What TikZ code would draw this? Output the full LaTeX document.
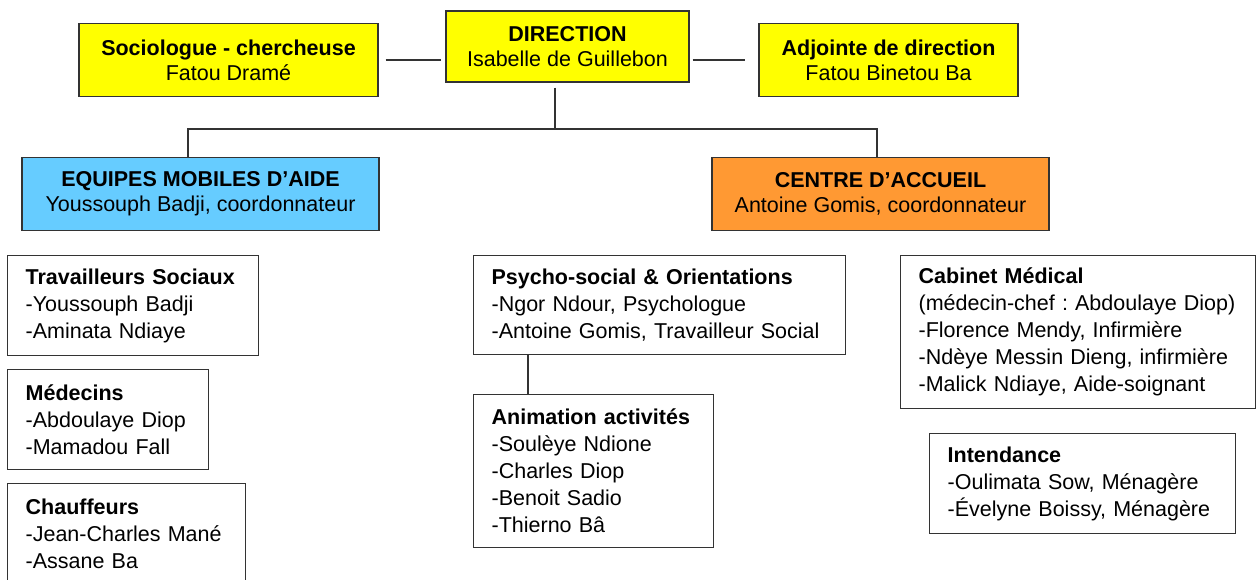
\documentclass[tikz,border=0pt]{standalone}
\usepackage{fontspec}
\setmainfont{Liberation Sans}
\usepackage{xcolor}
\frenchspacing

\definecolor{dirYellow}{HTML}{FFFF00}
\definecolor{mobileBlue}{HTML}{66CCFF}
\definecolor{accueilOrange}{HTML}{FF9933}
\definecolor{lineGray}{HTML}{333333}

\begin{document}
\begin{tikzpicture}[x=1pt, y=-1pt,
    headbox/.style={draw=lineGray, line width=1.3pt, align=center, inner sep=0pt,
        font=\fontsize{21.5}{25}\selectfont},
    unitbox/.style={draw=lineGray, line width=1.3pt, fill=white, align=left,
        anchor=north west, inner xsep=18pt, inner ysep=0pt,
        font=\fontsize{21.5}{27}\selectfont},
    link/.style={draw=lineGray, line width=1.3pt}]

    % Frame
    \useasboundingbox (0,0) rectangle (1256,579);
    \clip (0,0) rectangle (1256,579);
    \fill[white] (0,0) rectangle (1256,579);

    % Direction level
    \node[headbox, fill=dirYellow, minimum width=243, minimum height=71] (dir) at (567.5,46.5)
        {\textbf{DIRECTION}\\Isabelle de Guillebon};
    \node[headbox, fill=dirYellow, minimum width=299, minimum height=73] (socio) at (228.5,60)
        {\textbf{Sociologue - chercheuse}\\Fatou Dramé};
    \node[headbox, fill=dirYellow, minimum width=259, minimum height=73] (adjointe) at (888.5,60)
        {\textbf{Adjointe de direction}\\Fatou Binetou Ba};

    % Two services
    \node[headbox, fill=mobileBlue, minimum width=357, minimum height=73] (equipes) at (200.5,194)
        {\textbf{EQUIPES MOBILES D’AIDE}\\Youssouph Badji, coordonnateur};
    \node[headbox, fill=accueilOrange, minimum width=337, minimum height=73] (centre) at (880.5,194)
        {\textbf{CENTRE D’ACCUEIL}\\Antoine Gomis, coordonnateur};

    % Mobile teams
    \node[unitbox, text width=215pt, minimum height=100] (travail) at (7,255)
        {\textbf{Travailleurs Sociaux}\\-Youssouph Badji\\-Aminata Ndiaye};
    \node[unitbox, text width=165pt, minimum height=100] (medecins) at (7,369)
        {\textbf{Médecins}\\-Abdoulaye Diop\\-Mamadou Fall};
    \node[unitbox, text width=202pt, minimum height=100] (chauffeurs) at (7,483)
        {\textbf{Chauffeurs}\\-Jean-Charles Mané\\-Assane Ba};

    % Reception centre
    \node[unitbox, text width=336pt, minimum height=99] (psycho) at (473,255)
        {\textbf{Psycho-social \& Orientations}\\-Ngor Ndour, Psychologue\\-Antoine Gomis, Travailleur Social};
    \node[unitbox, text width=204pt, minimum height=153] (animation) at (473,394)
        {\textbf{Animation activités}\\-Soulèye Ndione\\-Charles Diop\\-Benoit Sadio\\-Thierno Bâ};
    \node[unitbox, text width=319pt, minimum height=153] (cabinet) at (900,255)
        {\textbf{Cabinet Médical}\\(médecin-chef : Abdoulaye Diop)\\-Florence Mendy, Infirmière\\-Ndèye Messin Dieng, infirmière\\-Malick Ndiaye, Aide-soignant};
    \node[unitbox, text width=270pt, minimum height=100] (intendance) at (929,433)
        {\textbf{Intendance}\\-Oulimata Sow, Ménagère\\-Évelyne Boissy, Ménagère};

    % Links
    \coordinate (split) at (555,129);
    \draw[link, shorten <=7pt, shorten >=4pt] (socio.east) -- (socio.east -| dir.west);
    \draw[link, shorten <=3pt, shorten >=13pt] (dir.east |- adjointe.west) -- (adjointe.west);
    \draw[link, shorten <=5pt] (dir.south -| split) -- (split);
    \draw[link] ([xshift=-12.5pt]equipes.north) |- (split) -| ([xshift=-3.5pt]centre.north);
    \draw[link] ([xshift=55pt]psycho.south west) -- ([xshift=55pt]animation.north west);
\end{tikzpicture}
\end{document}
